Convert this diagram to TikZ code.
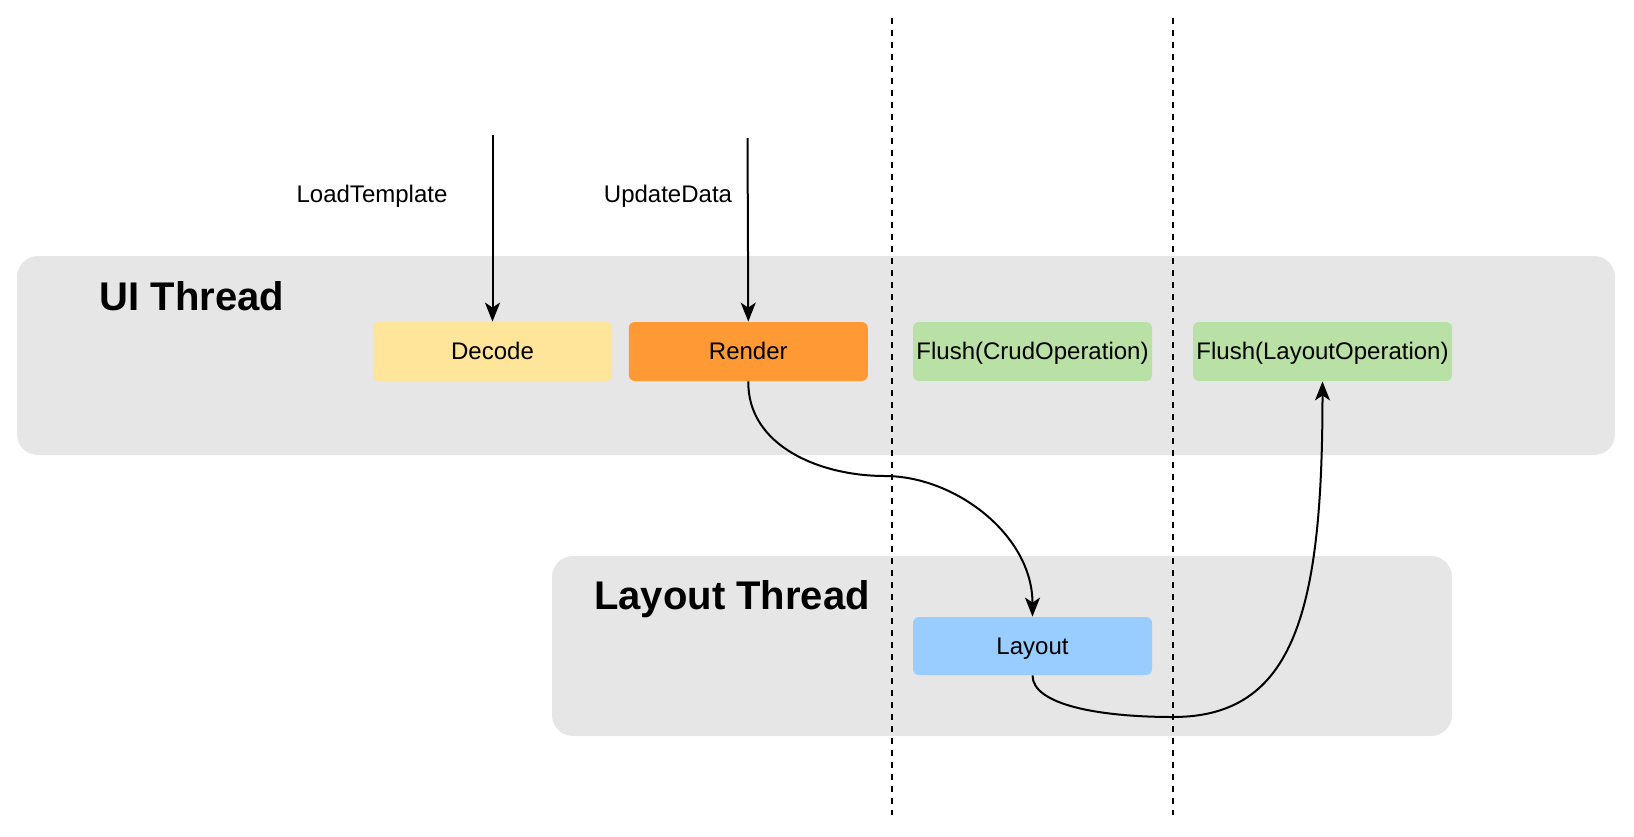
\documentclass[tikz,border=0pt]{standalone}
\usepackage{fontspec}
\setmainfont{Liberation Sans}
\usetikzlibrary{arrows.meta,positioning}

\definecolor{bandgray}{HTML}{E6E6E6}
\definecolor{decodeyellow}{HTML}{FFE599}
\definecolor{renderorange}{HTML}{FF9933}
\definecolor{flushgreen}{HTML}{B9E0A5}
\definecolor{layoutblue}{HTML}{99CCFF}

\begin{document}
\begin{tikzpicture}[x=0.5pt, y=-0.5pt, thread/.style={rectangle, fill=bandgray, rounded corners=10.5pt, inner sep=0pt}, title/.style={font=\bfseries\fontsize{20}{24}\selectfont}, task/.style={rectangle, rounded corners=3pt, minimum width=119.5pt, minimum height=29.5pt, inner sep=0pt, text height=10.7pt, text depth=2.4pt, font=\fontsize{12}{14}\selectfont}, call/.style={font=\fontsize{12}{14}\selectfont}, sep/.style={draw, dash pattern=on 3pt off 3pt, line width=0.8pt}, flow/.style={draw, line width=1pt, -{Stealth[length=9.5pt, width=7.5pt, inset=2.5pt]}}]

\useasboundingbox (0,0) rectangle (1634,836);

% Threads
\node[thread, minimum width=799pt, minimum height=99.5pt] (ui) at (816,355.5) {};
\node[thread, minimum width=450pt, minimum height=90pt] (lt) at (1002,646) {};
\node[title] (uititle) at (192,296) {UI Thread};
\node[title] (lttitle) at (732,599) {Layout Thread};

% Separators
\coordinate (sepatop) at (892,18);
\coordinate (sepabot) at (892,815);
\coordinate (sepbtop) at (1173,18);
\coordinate (sepbbot) at (1173,815);
\draw[sep] (sepatop) -- (sepabot);
\draw[sep] (sepbtop) -- (sepbbot);

% Tasks
\node[task, fill=decodeyellow] (decode) at (492.5,351.5) {Decode};
\node[task, fill=renderorange, right=8pt of decode] (render) {Render};
\node[task, fill=flushgreen] (flushcrud) at (1032.5,351.5) {Flush(CrudOperation)};
\node[task, fill=flushgreen, minimum width=129.5pt] (flushlayout) at (1322.5,351.5) {Flush(LayoutOperation)};
\node[task, fill=layoutblue, minimum height=29pt] (layout) at (1032.5,646) {Layout};

% Calls
\node[call] (loadlbl) at (372,196) {LoadTemplate};
\node[call] (updatelbl) at (668,196) {UpdateData};
\coordinate (loadsrc) at (492.5,135);
\coordinate (updatesrc) at (747.5,138);
\coordinate (bendrender) at (885,476);
\coordinate (bendlayout) at (1173,717);

% Arrows
\draw[flow] (loadsrc) -- (decode.north);
\draw[flow] (updatesrc) -- (render.north);
\draw[flow] (render.south) .. controls (747.5,446) and (820,476) .. (bendrender) .. controls (955,476) and (1032.5,535) .. (layout.north);
\draw[flow] (layout.south) .. controls (1032.5,705) and (1100,717) .. (bendlayout) .. controls (1295,717) and (1322.5,610) .. (flushlayout.south);

\end{tikzpicture}
\end{document}
